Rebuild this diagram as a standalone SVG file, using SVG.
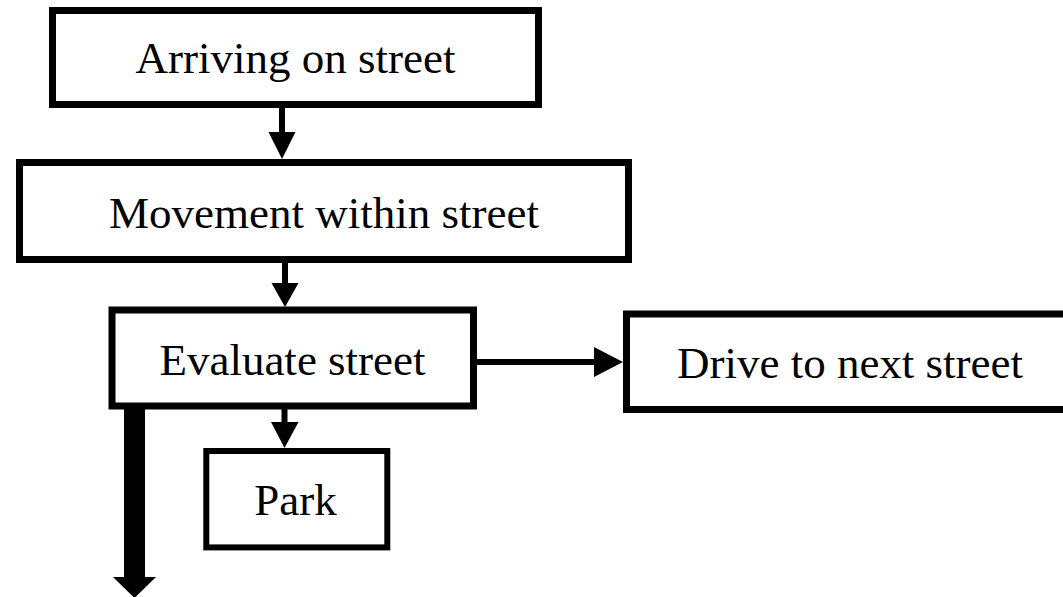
<svg xmlns="http://www.w3.org/2000/svg" width="1063" height="597" viewBox="0 0 1063 597">
<style>
.box{fill:#fff;stroke:#000;stroke-width:7}
.lbl{font-family:"Liberation Serif","Times New Roman",serif;font-size:45px;fill:#000;text-anchor:middle}
.ln{stroke:#000;stroke-width:6;fill:none}
.hd{fill:#000;stroke:none}
</style>
<rect width="1063" height="597" fill="#fff"/>
<g id="connectors">
<line class="ln" x1="282" y1="108" x2="282" y2="134"/>
<polygon class="hd" points="268.5,132 295.5,132 282,159"/>
<line class="ln" x1="285" y1="263" x2="285" y2="285"/>
<polygon class="hd" points="271.5,283 298.5,283 285,307"/>
<line class="ln" x1="477" y1="362" x2="596" y2="362"/>
<polygon class="hd" points="594,347 594,377 623,362"/>
<line class="ln" x1="284.5" y1="409" x2="284.5" y2="424"/>
<polygon class="hd" points="271,422 298.5,422 284.5,448"/>
<rect x="124" y="409" width="21" height="169" fill="#000"/>
<polygon class="hd" points="113,577 156,577 134.5,598"/>
</g>
<g id="arriving">
<rect class="box" x="52.5" y="10.5" width="486" height="94"/>
<text class="lbl" x="295.5" y="73">Arriving on street</text>
</g>
<g id="movement">
<rect class="box" x="19.5" y="162.5" width="609" height="97"/>
<text class="lbl" x="324" y="228">Movement within street</text>
</g>
<g id="evaluate">
<rect class="box" x="112" y="310" width="361.5" height="96"/>
<text class="lbl" x="292.5" y="375">Evaluate street</text>
</g>
<g id="drive">
<rect class="box" x="626.5" y="314" width="460" height="95.5"/>
<text class="lbl" x="850" y="378">Drive to next street</text>
</g>
<g id="park">
<rect class="box" style="stroke-width:6" x="206.3" y="451" width="181" height="96.4"/>
<text class="lbl" x="295.5" y="515">Park</text>
</g>
</svg>
